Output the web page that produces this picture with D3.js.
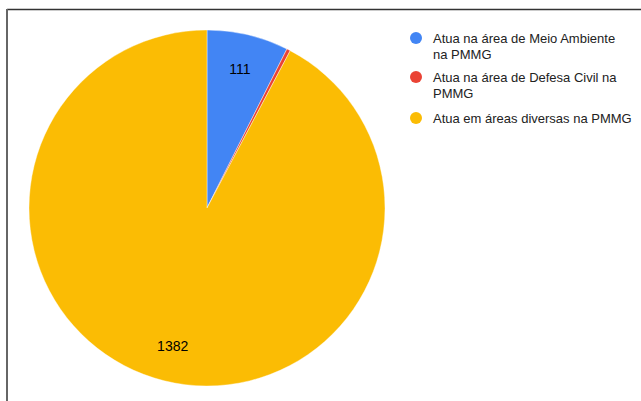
<!DOCTYPE html>
<html><head><meta charset="utf-8">
<script src="https://cdn.jsdelivr.net/npm/d3@7"></script>
<style>body{margin:0;background:#fff;overflow:hidden}svg{display:block}</style>
</head><body>
<svg id="c" width="641" height="401"></svg>
<script>
const categories = [
  ["Atua na área de Meio Ambiente", "na PMMG"],
  ["Atua na área de Defesa Civil na", "PMMG"],
  ["Atua em áreas diversas na PMMG"]
];
const values = [111, 5, 1382];
const labelsShown = ["111", "", "1382"];
const colors = ["#4285f4", "#ea4335", "#fbbc04"];

const svg = d3.select("#c");
svg.append("rect").attr("x",0).attr("y",0).attr("width",641).attr("height",401).attr("fill","#fff");
// frame
svg.append("line").attr("x1",7).attr("x2",641).attr("y1",9.5).attr("y2",9.5).attr("stroke","#333").attr("stroke-width",1.5);
svg.append("line").attr("x1",7).attr("x2",7).attr("y1",9).attr("y2",401).attr("stroke","#666").attr("stroke-width",2);

const cx = 207, cy = 208, r = 178;
const pie = d3.pie().sort(null).value(d => d)(values);
const arc = d3.arc().innerRadius(0).outerRadius(r);
const g = svg.append("g").attr("transform", `translate(${cx},${cy})`);
g.selectAll("path").data(pie).join("path")
  .attr("d", arc).attr("fill", (d,i) => colors[i])
  .attr("stroke","#fff").attr("stroke-width",0.4);

const labelArc = d3.arc().innerRadius(r*0.8).outerRadius(r*0.8);
g.selectAll("text").data(pie).join("text")
  .attr("transform", d => { const c = labelArc.centroid(d); return `translate(${c[0]},${c[1]})`; })
  .attr("text-anchor","middle").attr("dy","0.35em")
  .attr("font-family","Liberation Sans, Arial, sans-serif").attr("font-size",14)
  .attr("fill","#000")
  .text((d,i) => labelsShown[i]);

const leg = svg.append("g");
const legY = [38, 77, 118];
categories.forEach((lines, i) => {
  leg.append("circle").attr("cx",416).attr("cy",legY[i]).attr("r",6).attr("fill",colors[i]);
  lines.forEach((t, j) => {
    leg.append("text").attr("x",433).attr("y",legY[i] + j*16).attr("dy","0.35em")
      .attr("font-family","Liberation Sans, Arial, sans-serif").attr("font-size",13)
      .attr("fill","#222").text(t);
  });
});
</script>
</body></html>
